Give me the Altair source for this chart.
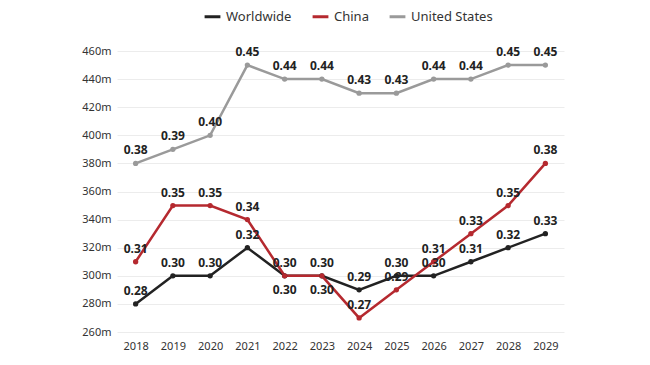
import altair as alt
import pandas as pd

years = ["2018", "2019", "2020", "2021", "2022", "2023", "2024", "2025", "2026", "2027", "2028", "2029"]
series_names = ["Worldwide", "China", "United States"]
worldwide = [280, 300, 300, 320, 300, 300, 290, 300, 300, 310, 320, 330]
china = [310, 350, 350, 340, 300, 300, 270, 290, 310, 330, 350, 380]
united_states = [380, 390, 400, 450, 440, 440, 430, 430, 440, 440, 450, 450]
colors = ["#222222", "#b5292f", "#9a9a9a"]
below_label_years = ["2022", "2023"]

rows = []
for name, vals in zip(series_names, [worldwide, china, united_states]):
    for y, v in zip(years, vals):
        rows.append({"year": y, "series": name, "value": v,
                     "lab": f"{v / 1000:.2f}"})
df = pd.DataFrame(rows)

FONT = "Noto Sans"

x_enc = alt.X("year:O", scale=alt.Scale(type="point", padding=0.5),
              axis=alt.Axis(title=None, labelAngle=0, domain=False, ticks=False,
                            labelPadding=8, labelFontSize=11, labelColor="#333",
                            labelFont=FONT, grid=False))
y_enc = alt.Y("value:Q", scale=alt.Scale(domain=[260, 460], nice=False, zero=False),
              axis=alt.Axis(title=None, values=list(range(260, 461, 20)),
                            tickCount=11,
                            labelExpr="datum.value + 'm'", domain=False, ticks=False,
                            labelOverlap=False,
                            labelPadding=6, labelFontSize=11, labelColor="#333",
                            labelFont=FONT, grid=True, gridColor="#ececec", gridWidth=1))
color_enc = alt.Color("series:N", sort=series_names,
                      scale=alt.Scale(domain=series_names, range=colors),
                      legend=alt.Legend(title=None, orient="none", direction="horizontal",
                                        legendX=86, legendY=-44, symbolType="stroke",
                                        symbolStrokeWidth=3, symbolSize=250,
                                        labelFontSize=13, labelColor="#333", labelFont=FONT,
                                        columnPadding=14))

base = alt.Chart(df).encode(x=x_enc, y=y_enc)

lines = base.mark_line(strokeWidth=2.5).encode(color=color_enc, detail="series:N")
points = base.mark_point(filled=True, size=28, opacity=1).encode(color=color_enc, detail="series:N")

is_below = "datum.series == 'Worldwide' && indexof(" + str(below_label_years) + ", datum.year) >= 0"

labels_above = base.transform_filter("!(" + is_below + ")").mark_text(
    dy=-13, fontSize=12, fontWeight="bold", color="#222", font=FONT
).encode(text="lab:N")

labels_below = base.transform_filter(is_below).mark_text(
    dy=14, fontSize=12, fontWeight="bold", color="#222", font=FONT
).encode(text="lab:N")

chart = alt.layer(lines, points, labels_above, labels_below).properties(
    width=447, height=281,
    background="white",
    autosize=alt.AutoSizeParams(type="none"),
    padding={"left": 109, "top": 43, "right": 20, "bottom": 20},
).configure_view(stroke=None, strokeWidth=0)

chart.save("out.html", embed_options={"renderer": "svg", "actions": False})
